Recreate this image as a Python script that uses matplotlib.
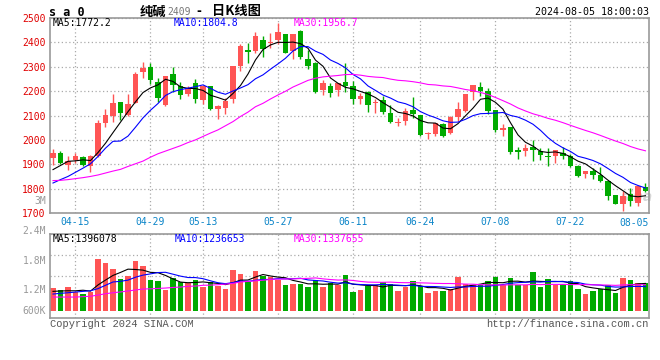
import matplotlib
matplotlib.use('Agg')
import matplotlib.pyplot as plt
import numpy as np
import pandas as pd

# trading days SA0, 2024-04-10 .. 2024-08-05 (May Day + Dragon Boat closed)
holidays = ['2024-05-01', '2024-05-02', '2024-05-03', '2024-06-10']
dates = pd.bdate_range('2024-04-10', '2024-08-05', freq='C', holidays=holidays)
date_labels = list(dates.strftime('%m-%d'))
tick_dates = ['04-15', '04-29', '05-13', '05-27', '06-11', '06-24', '07-08', '07-22']

opens = [1924, 1946, 1895, 1918, 1928, 1891, 1932, 2071, 2096, 2156,
         2103, 2153, 2277, 2298, 2239, 2144, 2270, 2219, 2189, 2232,
         2164, 2219, 2126, 2130, 2168, 2305, 2369, 2366, 2410, 2396,
         2410, 2434, 2366, 2448, 2332, 2314, 2205, 2219, 2205, 2239,
         2219, 2167, 2198, 2150, 2164, 2109, 2069, 2079, 2123, 2103,
         2024, 2025, 2066, 2028, 2093, 2117, 2195, 2216, 2199, 2124,
         2039, 2052, 1960, 1953, 1969, 1953, 1935, 1932, 1946, 1932,
         1891, 1860, 1874, 1857, 1830, 1775, 1737, 1778, 1741, 1805]
highs = [1964, 1955, 1932, 1946, 1935, 1939, 2082, 2126, 2189, 2156,
         2189, 2280, 2321, 2314, 2253, 2262, 2298, 2239, 2223, 2249,
         2223, 2219, 2144, 2171, 2305, 2393, 2399, 2444, 2426, 2437,
         2478, 2434, 2434, 2450, 2369, 2321, 2246, 2235, 2235, 2317,
         2243, 2194, 2202, 2168, 2180, 2144, 2089, 2130, 2175, 2103,
         2034, 2071, 2069, 2096, 2157, 2189, 2226, 2236, 2212, 2124,
         2066, 2052, 1971, 1984, 2001, 1966, 1966, 1960, 1971, 1942,
         1898, 1871, 1884, 1889, 1830, 1775, 1789, 1802, 1812, 1823]
lows = [1898, 1902, 1875, 1905, 1891, 1867, 1930, 2052, 2075, 2082,
        2096, 2150, 2253, 2230, 2157, 2139, 2198, 2168, 2178, 2150,
        2148, 2123, 2086, 2107, 2153, 2284, 2314, 2358, 2339, 2375,
        2393, 2355, 2330, 2332, 2291, 2194, 2184, 2174, 2182, 2198,
        2148, 2148, 2116, 2112, 2105, 2071, 2055, 2062, 2089, 2017,
        2003, 2017, 2011, 2025, 2078, 2113, 2162, 2181, 2107, 2031,
        2017, 1943, 1923, 1932, 1912, 1919, 1894, 1905, 1921, 1889,
        1848, 1843, 1839, 1827, 1755, 1737, 1707, 1727, 1730, 1786]
closes = [1946, 1905, 1912, 1932, 1895, 1932, 2069, 2103, 2150, 2109,
          2148, 2270, 2294, 2246, 2171, 2262, 2225, 2184, 2214, 2168,
          2223, 2126, 2137, 2161, 2305, 2386, 2362, 2426, 2373, 2400,
          2441, 2358, 2434, 2341, 2305, 2198, 2232, 2194, 2232, 2221,
          2168, 2178, 2144, 2157, 2116, 2074, 2075, 2119, 2107, 2021,
          2028, 2069, 2017, 2093, 2126, 2189, 2226, 2199, 2117, 2039,
          2048, 1949, 1949, 1966, 1960, 1939, 1928, 1960, 1935, 1891,
          1850, 1871, 1854, 1830, 1768, 1737, 1768, 1748, 1812, 1789]
volumes = [1161000, 1074000, 1212000, 941000, 854000, 941000, 2643000, 2454000, 2132000, 1621000,
           1774000, 2556000, 2285000, 1570000, 1534000, 1074000, 1672000, 1467000, 1416000, 1595000,
           1212000, 1467000, 1288000, 1109000, 2081000, 1876000, 1493000, 2045000, 1759000, 1708000,
           1585000, 1329000, 1365000, 1365000, 1227000, 1585000, 1227000, 1416000, 1329000, 1840000,
           956000, 1074000, 1247000, 1329000, 1467000, 1380000, 1022000, 1196000, 1534000, 1247000,
           905000, 1022000, 1022000, 1109000, 1723000, 1365000, 1299000, 1299000, 1534000, 1723000,
           1299000, 1672000, 1329000, 1299000, 1979000, 1212000, 1621000, 1329000, 1365000, 1503000,
           1109000, 854000, 1007000, 1109000, 1299000, 905000, 1672000, 1570000, 1416000, 1416000]

# moving averages at the left edge depend on earlier days ->
ma5_head = [1878, 1895, 1912, 1914]
ma10_head = [1823, 1837, 1850, 1867, 1884, 1902, 1932, 1966, 1994]
ma30_head = [1833, 1834, 1837, 1841, 1845, 1850, 1856, 1864, 1872, 1879,
             1891, 1902, 1913, 1929, 1943, 1954, 1965, 1976, 1989, 2000,
             2014, 2028, 2041, 2058, 2075, 2096, 2114, 2136, 2150]
vma5_head = [990000, 1010000, 1020000, 1020000]
vma10_head = [853000, 890000, 920000, 956000, 990000, 1020000, 1130000, 1300000, 1470000]
vma30_head = [700000, 700000, 700000, 700000, 720000, 740000, 800000, 870000, 920000, 960000,
              1010000, 1060000, 1110000, 1120000, 1140000, 1160000, 1190000, 1210000, 1250000, 1260000,
              1300000, 1310000, 1330000, 1360000, 1400000, 1470000, 1500000, 1530000, 1560000]

price_legend = ['MA5:1772.2', 'MA10:1804.8', 'MA30:1956.7']
vol_legend = ['MA5:1396078', 'MA10:1236653', 'MA30:1337655']
vol_axis_labels = ['2.4M', '1.8M', '1.2M', '600K']


def moving_avg(values, n, head):
    s = pd.Series(values, dtype=float).rolling(n).mean().to_numpy()
    s[:len(head)] = head
    return s


UP = '#ff5555'
DOWN = '#00aa00'
GRID = '#aaaaaa'
EDGE = '#999999'
MA_COLORS = ['black', '#0000ff', '#ff00ff']
MONO = 'DejaVu Sans Mono'
CJK = ['Noto Sans CJK SC', 'DejaVu Sans']

o = np.array(opens, float)
h = np.array(highs, float)
l = np.array(lows, float)
c = np.array(closes, float)
v = np.array(volumes, float)
x = np.arange(len(c))
colors = np.where(c >= o, UP, DOWN)

W, H = 660, 360
fig = plt.figure(figsize=(W / 100, H / 100), dpi=100)


def px_axes(left, top, right, bottom):
    return fig.add_axes([left / W, 1 - bottom / H, (right - left) / W, (bottom - top) / H])


def fig_text(px, py, s, **kw):
    fig.text(px / W, 1 - py / H, s, **kw)


ax = px_axes(50, 18, 649, 213)
axv = px_axes(50, 234, 649, 318)

tick_pos = [date_labels.index(d) for d in tick_dates]
xlim = (-0.4, len(c) - 1 + 0.47)

for a in (ax, axv):
    a.set_xlim(*xlim)
    a.set_xticks(tick_pos)
    a.tick_params(length=0)
    for side in a.spines:
        a.spines[side].set_color(EDGE)
        a.spines[side].set_linewidth(1.2)
    a.grid(True, color=GRID, linestyle=(0, (1, 2)), linewidth=0.9)
    a.set_axisbelow(True)

# --- price panel ---
ax.vlines(x, l, h, colors=colors, linewidth=1, zorder=2)
body = np.maximum(np.abs(c - o), 4)
ax.bar(x, body, bottom=np.minimum(o, c), width=0.78, color=colors, linewidth=0, zorder=3)

for n, head, col in zip((5, 10, 30), (ma5_head, ma10_head, ma30_head), MA_COLORS):
    ax.plot(x, moving_avg(closes, n, head), color=col, linewidth=0.8, zorder=4)

ax.set_ylim(1700, 2500)
ax.set_yticks(range(1700, 2501, 100))
ax.set_yticklabels([str(t) for t in range(1700, 2501, 100)], color='#e00000',
                   fontsize=7, family=MONO)
ax.set_xticklabels(tick_dates, color='#0a84c8', fontsize=7, family=MONO)
ax.tick_params(axis='y', pad=3)
ax.tick_params(axis='x', pad=3)
ax.text(1.0, -0.027, date_labels[-1], transform=ax.transAxes, ha='right', va='top',
        color='#0a84c8', fontsize=7, family=MONO)

for s, col, px in zip(price_legend, MA_COLORS, (53, 174, 294)):
    fig_text(px, 23.5, s, color=col, fontsize=7, family=MONO, va='center')

ax.text(0.98, 0.08, 'sina', transform=ax.transAxes, ha='center', va='center',
        color='#bbbbbb', alpha=0.6, fontsize=10, style='italic', weight='bold', zorder=1)

# --- volume panel ---
axv.bar(x, v, width=0.78, color=colors, linewidth=0, zorder=2)
for n, head, col in zip((5, 10, 30), (vma5_head, vma10_head, vma30_head), MA_COLORS):
    axv.plot(x, moving_avg(volumes, n, head), color=col, linewidth=0.8, zorder=3)
vmax = 3.92e6
vmin = -0.37e6
axv.set_ylim(vmin, vmax)
axv.set_yticks(np.linspace(vmin, vmax, 5))
axv.set_yticklabels([])
axv.set_xticklabels([])

for s, col, px in zip(vol_legend, MA_COLORS, (53, 175, 294)):
    fig_text(px, 239.5, s, color=col, fontsize=7, family=MONO, va='center')
for s, py in zip(vol_axis_labels, (231, 261, 290, 311)):
    fig_text(46, py, s, color='#999999', fontsize=7, family=MONO, ha='right', va='center')
fig_text(46, 201, '3M', color='#999999', fontsize=7, family=MONO, ha='right', va='center')

# --- header / footer ---
fig_text(49, 12.5, 's a 0', color='black', fontsize=8.5, family=MONO, weight='bold', va='center')
fig_text(140, 11.5, '纯碱', color='black', fontsize=9.5, family=CJK, weight='bold', va='center')
fig_text(167, 12, '2409', color='#777777', fontsize=7, family=MONO, va='center')
fig_text(196, 11.5, '-', color='black', fontsize=9.5, family=CJK, weight='bold', va='center')
fig_text(212, 11.5, '日K线图', color='black', fontsize=9.5, family=CJK, weight='bold', va='center')
fig_text(649, 12, '2024-08-05 18:00:03', color='black', fontsize=7.2, family=MONO,
         ha='right', va='center')
fig_text(50, 324, 'Copyright 2024 SINA.COM', color='#555555', fontsize=7.5,
         family='Liberation Mono', va='center')
fig_text(649, 324, 'http://finance.sina.com.cn', color='#555555', fontsize=7.5,
         family='Liberation Mono', ha='right', va='center')

fig.savefig('out.png', dpi=100, facecolor='white')
